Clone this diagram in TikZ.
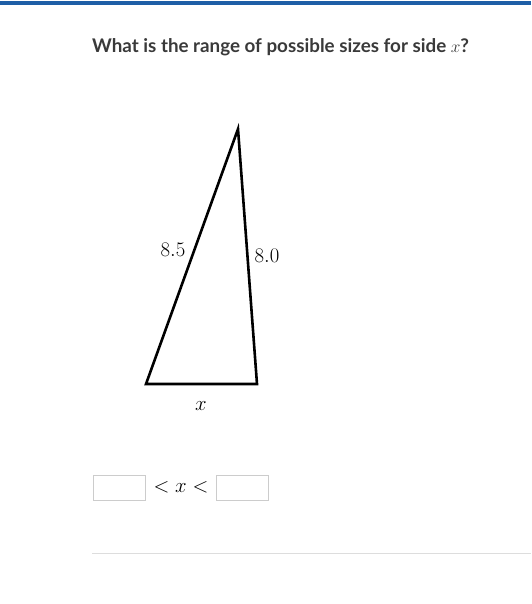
\documentclass[tikz,border=0pt]{standalone}
\usepackage{fontspec}
\setmainfont{Lato}
\definecolor{topblue}{RGB}{30,94,166}
\definecolor{boxgray}{RGB}{204,204,204}
\definecolor{rulegray}{RGB}{221,221,221}
\definecolor{titlegray}{RGB}{58,58,58}
\tikzset{
  answerbox/.style={draw=boxgray,line width=1pt,minimum width=52pt,minimum height=25pt,inner sep=0pt},
  sidelabel/.style={font=\fontsize{20}{24}\selectfont,inner sep=1pt}
}
\begin{document}
\begin{tikzpicture}[x=1pt,y=-1pt]
  \useasboundingbox (0,0) rectangle (531,604);
  \fill[white] (0,0) rectangle (531,604);
  % header
  \draw[topblue,line width=4pt] (0,3) -- (531,3);
  \node[anchor=base west,inner sep=0pt,text=titlegray,font=\fontsize{18.8}{22}\selectfont\bfseries] (title) at (92,53)
    {What is the range of possible sizes for side $x$?};
  % triangle
  \coordinate (top) at (238,129);
  \coordinate (bl) at (146,384);
  \coordinate (br) at (257,384);
  \draw[line width=2.6pt,line join=miter] (top) -- (bl) -- (br) -- cycle;
  \node[sidelabel] (a) at (173,250) {$8.5$};
  \node[sidelabel] (b) at (267,256) {$8.0$};
  \node[sidelabel] (c) at (201,406) {$x$};
  % answer row
  \node[answerbox] (low) at (119,487.5) {};
  \node[answerbox] (high) at (242.5,487.5) {};
  \node[sidelabel] (rel) at (181,487) {$<x<$};
  % footer rule
  \draw[rulegray,line width=1pt] (92,553) -- (531,553);
\end{tikzpicture}
\end{document}
